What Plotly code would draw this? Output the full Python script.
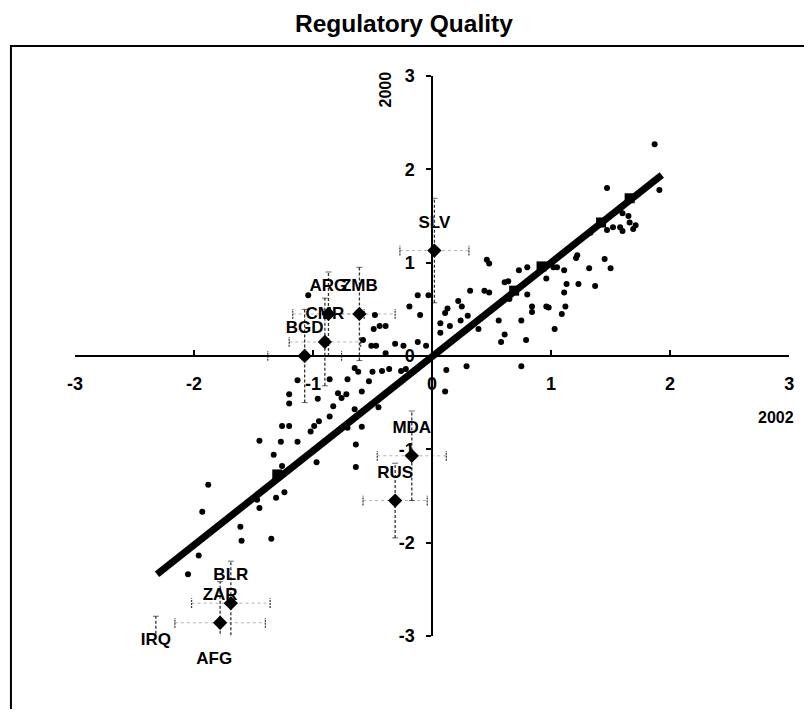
import plotly.graph_objects as go

# Governance estimates per country: Regulatory Quality, 2002 (x) against 2000 (y)
x2002 = [
    -1.13, -1.20, -1.20, -0.96, -1.26, -1.20, -0.95, -0.99, -1.02, -1.27,
    -1.13, -1.33, -1.26, -0.97, -1.88, -1.24, -1.31, -1.47, -1.45, -1.93,
    -1.04, -0.12, -0.03, -0.19, -0.10, 0.13, 0.11, -0.44, -0.39, -0.49,
    0.07, 0.07, 0.15, -0.58, -0.51, -0.47, -0.31, -0.24, -0.12, -0.05,
    -0.39, -0.65, -0.62, -0.50, -0.42, -0.36, -0.26, -0.22, 0.12, -0.86,
    -0.71, -0.53, -0.79, -0.72, -0.76, -0.59, 0.11, -0.83, -0.65, -0.45,
    -0.86, -0.71, -0.59, -0.64, -0.64, -0.48, -1.45,
    0.46, 0.48, 0.73, 0.80, 1.02, 1.05, 1.11, 1.22, 1.21, 1.32,
    0.96, 0.61, 0.64, 1.13, 1.23, 0.32, 0.44, 0.48, 0.80, 1.11,
    0.22, 0.25, 0.65, 0.84, 0.84, 0.96, 0.98, 1.12, 1.09, 0.30,
    0.24, 0.56, 0.75, 0.39, 1.03, 0.61, 0.58, 0.79, 0.29, 0.75,
    1.87, 1.91, 1.47, 1.60, 1.65, 1.66, 1.71, 1.69, 1.47, 1.52,
    1.58, 1.60, 1.33, 1.45, 1.50, 1.37,
    -1.61, -1.60, -1.35, -1.96, -2.05,
]
y2000 = [
    -0.26, -0.41, -0.51, -0.46, -0.75, -0.75, -0.70, -0.75, -0.81, -0.92,
    -0.92, -1.06, -1.18, -1.14, -1.38, -1.46, -1.52, -1.54, -1.63, -1.67,
    0.65, 0.65, 0.65, 0.53, 0.44, 0.51, 0.46, 0.32, 0.32, 0.29,
    0.35, 0.25, 0.32, 0.17, 0.11, 0.11, 0.13, 0.11, 0.15, 0.11,
    0.03, -0.13, -0.17, -0.17, -0.16, -0.14, -0.16, -0.14, -0.15, -0.25,
    -0.25, -0.27, -0.40, -0.41, -0.45, -0.38, -0.38, -0.54, -0.57, -0.55,
    -0.65, -0.77, -0.76, -0.95, -1.19, 0.44, -0.91,
    1.03, 0.99, 0.92, 0.95, 0.95, 0.95, 0.92, 1.08, 1.05, 0.94,
    0.83, 0.79, 0.80, 0.77, 0.77, 0.70, 0.70, 0.68, 0.66, 0.68,
    0.59, 0.53, 0.61, 0.53, 0.47, 0.53, 0.52, 0.53, 0.45, 0.43,
    0.38, 0.38, 0.38, 0.29, 0.29, 0.23, 0.15, 0.17, -0.11, -0.11,
    2.27, 1.78, 1.80, 1.53, 1.50, 1.43, 1.40, 1.36, 1.35, 1.38,
    1.38, 1.34, 1.32, 1.04, 0.94, 0.75,
    -1.83, -1.98, -1.96, -2.14, -2.34,
]

# Highlighted countries with their margins of error
codes = ["SLV", "BGD", "CMR", "ARG", "ZMB", "MDA", "RUS", "BLR", "ZAR", "IRQ", "AFG"]
code_x = [0.02, -1.07, -0.90, -0.87, -0.61, -0.17, -0.31, -1.69, -1.78, -2.32, -1.83]
code_y = [1.13, 0.00, 0.15, 0.45, 0.45, -1.07, -1.55, -2.65, -2.86, -3.34, -3.55]
err_x = [0.29, 0.31, 0.30, 0.30, 0.30, 0.29, 0.27, 0.33, 0.38, 0.30, 0.30]
err_y = [0.56, 0.50, 0.47, 0.45, 0.50, 0.48, 0.40, 0.45, 0.44, 0.55, 0.50]

# Regression line and the countries lying on it
fit_x = [-2.31, 1.93]
fit_y = [-2.34, 1.94]
on_line_x = [-1.30, 0.69, 0.92, 1.42, 1.66]
on_line_y = [-1.27, 0.70, 0.96, 1.43, 1.69]

tick_vals = [-3, -2, -1, 0, 1, 2, 3]
tick_text = ["-3", "-2", "-1", "0", "1", "2", "3"]

# The page body keeps its default 8px margin: the figure starts PAD pixels
# into the window and runs to its right and bottom edges.
PAD = 8
WIN_W, WIN_H = 812, 717
W, H = WIN_W - PAD, WIN_H - PAD
FONT = "Liberation Sans, Arial, sans-serif"


def px(sx):
    return (sx - PAD) / W


def py(sy):
    return 1 - (sy - PAD) / H


# axis box on screen: axes run from -3 to 3 and cross at the origin
X_LEFT, X_RIGHT = 76, 802
Y_TOP, Y_BOTTOM = 76, 652
X0_PX = (X_LEFT + X_RIGHT) / 2
Y0_PX = (Y_TOP + Y_BOTTOM) / 2
X_UNIT = (X_RIGHT - X_LEFT) / 6
Y_UNIT = (Y_BOTTOM - Y_TOP) / 6

# a second, invisible subplot spans the whole figure with the same scale,
# so country codes below the -3 line still show
x2_range = [(PAD - X0_PX) / X_UNIT, (WIN_W - X0_PX) / X_UNIT]
y2_range = [(Y0_PX - WIN_H) / Y_UNIT, (Y0_PX - PAD) / Y_UNIT]

# error bars drawn as dashed segments with small caps
cap_x = 3 / X_UNIT
cap_y = 5 / Y_UNIT
v_x, v_y, vc_x, vc_y = [], [], [], []
h_x, h_y, hc_x, hc_y = [], [], [], []
for cx, cy, ex, ey in zip(code_x, code_y, err_x, err_y):
    v_x += [cx, cx, None]
    v_y += [cy - ey, cy + ey, None]
    for yy in (cy - ey, cy + ey):
        vc_x += [cx - cap_x, cx + cap_x, None]
        vc_y += [yy, yy, None]
    h_x += [cx - ex, cx + ex, None]
    h_y += [cy, cy, None]
    for xx in (cx - ex, cx + ex):
        hc_x += [xx, xx, None]
        hc_y += [cy - cap_y, cy + cap_y, None]

fig = go.Figure()

fig.add_trace(go.Scatter(x=h_x, y=h_y, mode="lines", hoverinfo="skip",
                         line=dict(color="rgba(0,0,0,0.3)", width=1, dash="3px,3px")))
fig.add_trace(go.Scatter(x=hc_x, y=hc_y, mode="lines", hoverinfo="skip",
                         line=dict(color="rgba(0,0,0,0.75)", width=1.3, dash="2px,1px")))
fig.add_trace(go.Scatter(x=v_x, y=v_y, mode="lines", hoverinfo="skip",
                         line=dict(color="rgba(0,0,0,0.8)", width=1.3, dash="3px,2px")))
fig.add_trace(go.Scatter(x=vc_x, y=vc_y, mode="lines", hoverinfo="skip",
                         line=dict(color="rgba(0,0,0,0.6)", width=1)))

fig.add_trace(go.Scatter(
    x=fit_x, y=fit_y, mode="lines",
    line=dict(color="black", width=7),
    hoverinfo="skip",
))
fig.add_trace(go.Scatter(
    x=on_line_x, y=on_line_y, mode="markers",
    marker=dict(symbol="square", size=10, color="black"),
    hoverinfo="skip",
))
fig.add_trace(go.Scatter(
    x=x2002, y=y2000, mode="markers",
    marker=dict(symbol="circle", size=6, color="black"),
))
fig.add_trace(go.Scatter(
    x=code_x, y=code_y, mode="markers",
    marker=dict(symbol="diamond", size=11, color="black"),
))
# country codes sit above their diamonds
fig.add_trace(go.Scatter(
    x=code_x, y=code_y, mode="markers+text", text=codes,
    xaxis="x2", yaxis="y2",
    textposition="top center",
    textfont=dict(family=FONT, size=17, color="black", weight="bold"),
    marker=dict(size=28, color="rgba(0,0,0,0)"),
    cliponaxis=False, hoverinfo="skip",
))

axis_common = dict(
    range=[-3, 3], showgrid=False, zeroline=False,
    showline=True, linecolor="black", linewidth=1.5,
    tickcolor="black", ticklen=5, tickwidth=1.5,
    tickmode="array", tickvals=tick_vals, ticktext=tick_text,
    tickfont=dict(family=FONT, size=18, color="black", weight="bold"),
    anchor="free", fixedrange=True,
)

fig.update_layout(
    width=W, height=H,
    margin=dict(l=0, r=0, t=0, b=0),
    paper_bgcolor="white", plot_bgcolor="rgba(0,0,0,0)",
    showlegend=False,
    xaxis=dict(axis_common, domain=[px(X_LEFT), px(X_RIGHT)],
               position=py(Y0_PX), ticks="inside", ticklabelstandoff=12),
    yaxis=dict(axis_common, domain=[py(Y_BOTTOM), py(Y_TOP)],
               position=px(X0_PX), ticks="outside", ticklabelstandoff=8),
    xaxis2=dict(domain=[0, 1], range=x2_range, visible=False,
                anchor="y2", fixedrange=True),
    yaxis2=dict(domain=[0, 1], range=y2_range, visible=False,
                anchor="x2", fixedrange=True),
    shapes=[dict(type="rect", xref="paper", yref="paper",
                 x0=px(11), x1=1.05, y0=-0.05, y1=py(45),
                 line=dict(color="black", width=2))],
    annotations=[
        dict(text="Regulatory Quality", xref="paper", yref="paper",
             x=px(410), y=py(22), xanchor="center", yanchor="middle",
             showarrow=False,
             font=dict(family=FONT, size=24.5, color="black", weight="bold")),
        dict(text="2002", xref="paper", yref="paper",
             x=px(789), y=py(427), xanchor="center", yanchor="middle",
             showarrow=False,
             font=dict(family=FONT, size=16, color="black", weight="bold")),
        dict(text="2000", xref="paper", yref="paper", textangle=-90,
             x=px(392), y=py(90), xanchor="center", yanchor="middle",
             showarrow=False,
             font=dict(family=FONT, size=16, color="black", weight="bold")),
    ],
)

fig.write_html("out.html")
